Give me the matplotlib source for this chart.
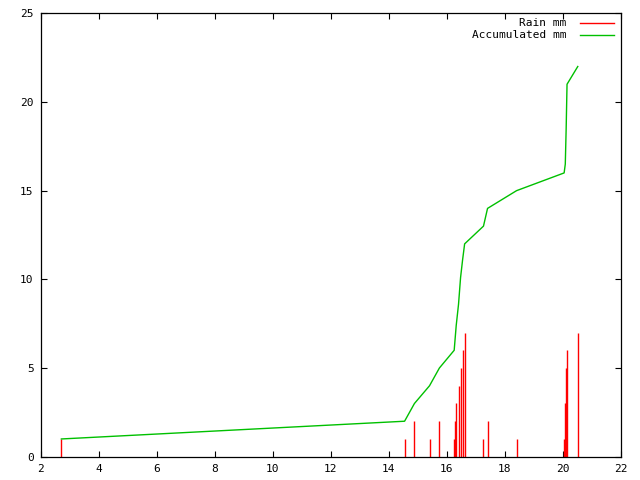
import numpy as np
import matplotlib
matplotlib.use("Agg")
from matplotlib import pyplot as plt

# rain impulses (time, mm)
rain_x = [2.72, 14.55, 14.89, 15.41, 15.75,
          16.26, 16.29, 16.33, 16.41, 16.48, 16.55, 16.62,
          17.27, 17.41, 18.41,
          20.05, 20.09, 20.12, 20.15, 20.52]
rain_y = [1, 1, 2, 1, 2,
          1, 2, 3, 4, 5, 6, 7,
          1, 2, 1,
          1, 3, 5, 6, 7]

# accumulated line
acc_x = [2.72, 14.55, 14.89, 15.41, 15.75,
         16.26, 16.29, 16.33, 16.41, 16.48, 16.55, 16.62,
         17.27, 17.41, 18.41,
         20.05, 20.09, 20.12, 20.15, 20.52]
acc_y = [1, 2, 3, 4, 5,
         6, 6.6, 7.4, 8.6, 10.1, 11.1, 12,
         13, 14, 15,
         16, 16.5, 18.5, 21, 22]

xticks = np.arange(2, 23, 2)
yticks = np.arange(0, 26, 5)

plt.rcParams['font.family'] = 'DejaVu Sans Mono'
fig = plt.figure(figsize=(6.4, 4.8), dpi=100)
ax = fig.add_axes([40.5/640, 1-456.7/480, (620.7-40.5)/640, (456.7-13.3)/480])

ax.vlines(rain_x, 0, rain_y, colors='#ff0000', linewidth=1.0)
ax.plot(acc_x, acc_y, color='#00c000', linewidth=1.0)

ax.set_xlim(2, 22)
ax.set_ylim(0, 25)
ax.set_xticks(xticks)
ax.set_yticks(yticks)
ax.tick_params(direction='in', length=4, width=0.8, top=True, right=True,
               labelsize=8, pad=5)
for s in ax.spines.values():
    s.set_linewidth(0.9)

# legend, gnuplot style (text right-aligned, sample after)
ax.text(0.906, 0.977, 'Rain mm', transform=ax.transAxes, ha='right', va='center', fontsize=8)
ax.plot([0.93, 0.988], [0.977, 0.977], transform=ax.transAxes, color='#ff0000', linewidth=1.0)
ax.text(0.906, 0.952, 'Accumulated mm', transform=ax.transAxes, ha='right', va='center', fontsize=8)
ax.plot([0.93, 0.988], [0.952, 0.952], transform=ax.transAxes, color='#00c000', linewidth=1.0)

fig.savefig('out.png', dpi=100)
